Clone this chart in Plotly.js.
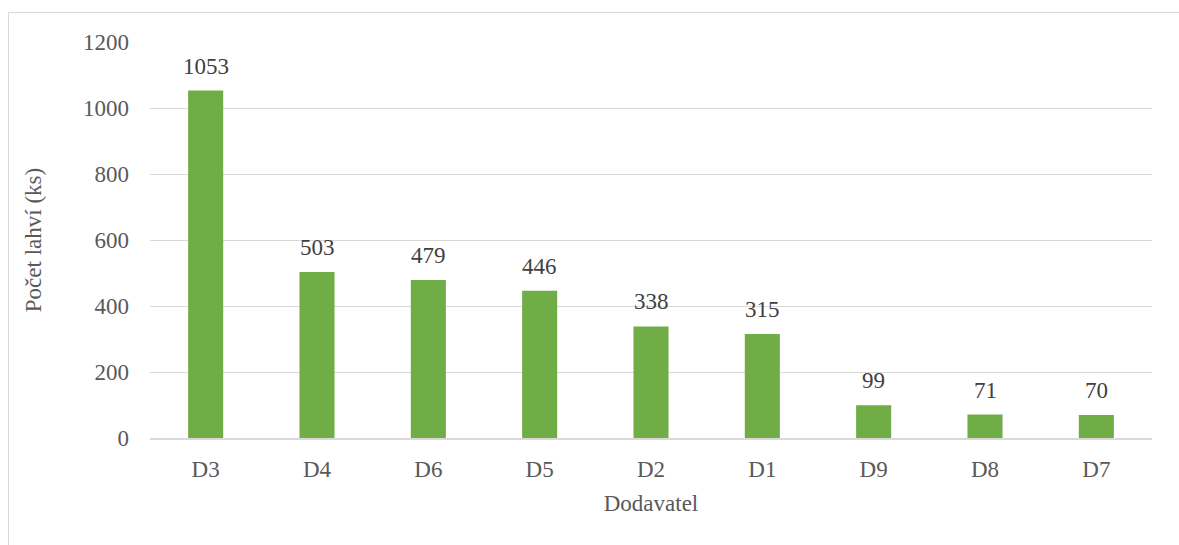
<!DOCTYPE html>
<html>
<head>
<meta charset="utf-8">
<script src="https://cdn.plot.ly/plotly-3.0.1.min.js"></script>
<style>
html,body{margin:0;padding:0;background:#fff;}
#chart{position:absolute;left:0;top:0;width:1179px;height:545px;}
#frame{position:absolute;left:8px;top:12px;width:1180px;height:540px;border-left:1px solid #d9d9d9;border-top:1px solid #d9d9d9;pointer-events:none;}
</style>
</head>
<body>
<div id="chart"></div>
<div id="frame"></div>
<script>
const categories = ["D3","D4","D6","D5","D2","D1","D9","D8","D7"];
const values = [1053,503,479,446,338,315,99,71,70];
const yTicks = [0,200,400,600,800,1000,1200];

const font = "Liberation Serif, Times New Roman, serif";
const fs = 23;

const trace = {
  type: "bar",
  x: categories,
  y: values,
  marker: {color: "#70AD47"},
  hoverinfo: "x+y"
};

const annotations = categories.map((c, i) => ({
  x: c, y: values[i], xref: "x", yref: "y",
  text: String(values[i]), showarrow: false,
  yanchor: "bottom", yshift: 10,
  font: {family: font, size: fs, color: "#404040"}
}));

const layout = {
  width: 1179, height: 545,
  margin: {l: 150, r: 27, t: 42, b: 107},
  paper_bgcolor: "#fff", plot_bgcolor: "#fff",
  bargap: 0.685,
  showlegend: false,
  font: {family: font, size: fs, color: "#595959"},
  xaxis: {
    type: "category",
    showgrid: false,
    showline: true, linecolor: "#d9d9d9", linewidth: 2,
    ticks: "", ticklabelstandoff: 9,
    tickfont: {family: font, size: fs, color: "#595959"},
    title: {text: "Dodavatel", font: {family: font, size: fs, color: "#595959"}, standoff: 14}
  },
  yaxis: {
    range: [0, 1200],
    tickvals: yTicks,
    ticktext: yTicks.map(String),
    showgrid: true, gridcolor: "#d9d9d9", gridwidth: 1,
    zeroline: false,
    ticks: "", ticklabelstandoff: 20,
    tickfont: {family: font, size: fs, color: "#595959"},
    title: {text: "Počet lahví (ks)", font: {family: font, size: fs, color: "#595959"}, standoff: 34}
  },
  annotations: annotations
};

Plotly.newPlot("chart", [trace], layout, {displayModeBar: false, staticPlot: true});
</script>
</body>
</html>
